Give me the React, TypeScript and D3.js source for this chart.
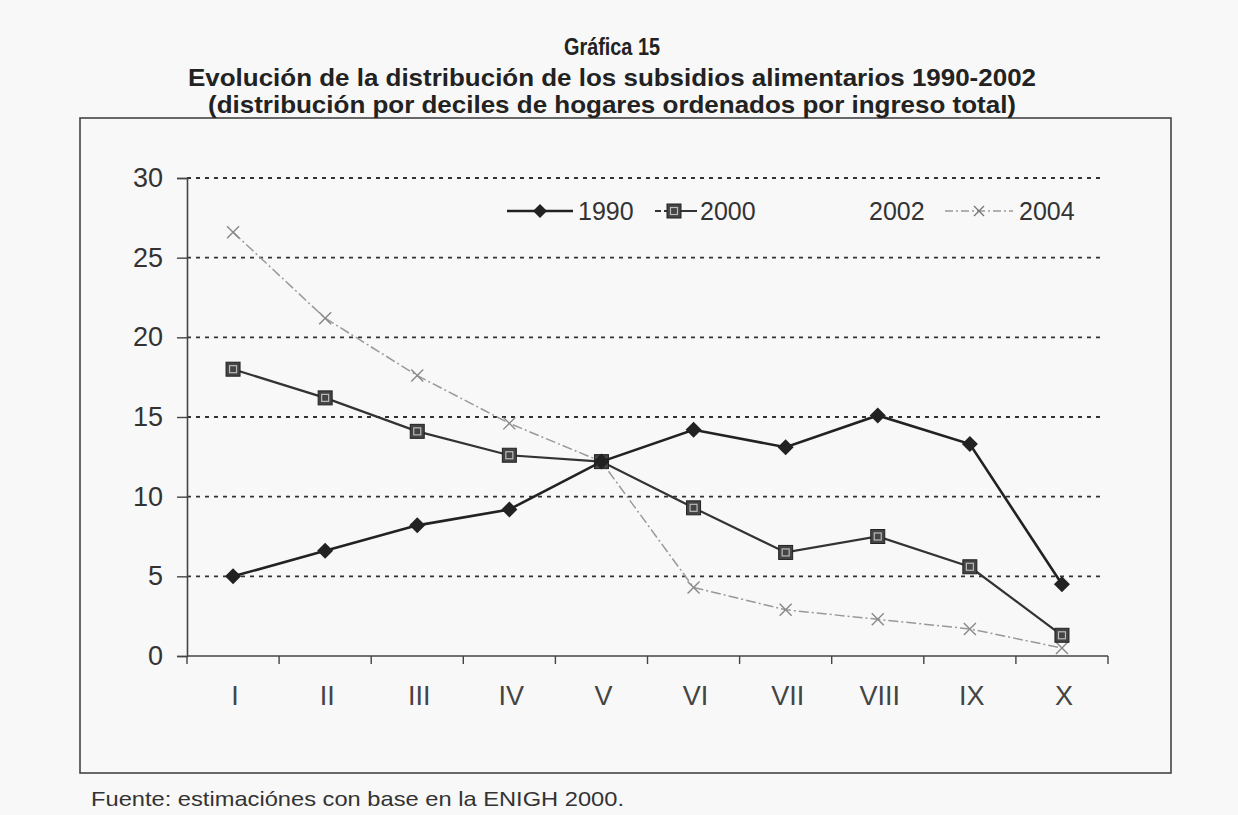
import React, { useEffect, useRef } from "react";
import * as d3 from "d3";

const categories = ["I", "II", "III", "IV", "V", "VI", "VII", "VIII", "IX", "X"];
const values1990 = [5.0, 6.6, 8.2, 9.2, 12.2, 14.2, 13.1, 15.1, 13.3, 4.5];
const values2000 = [18.0, 16.2, 14.1, 12.6, 12.2, 9.3, 6.5, 7.5, 5.6, 1.3];
const values2004 = [26.6, 21.2, 17.6, 14.6, 12.2, 4.3, 2.9, 2.3, 1.7, 0.5];
const yTicks = [0, 5, 10, 15, 20, 25, 30];
const titleLines = [
  "Gráfica 15",
  "Evolución de la distribución de los subsidios alimentarios 1990-2002",
  "(distribución por deciles de hogares ordenados por ingreso total)",
];
const legendLabels = ["1990", "2000", "2002", "2004"];
const sourceNote = "Fuente: estimaciónes con base en la ENIGH 2000.";

const W = 1238;
const H = 815;
const FONT = "'Liberation Sans', Arial, sans-serif";
const NARROW = "'Liberation Sans Narrow', 'Liberation Sans', Arial, sans-serif";

export default function App() {
  const ref = useRef<SVGSVGElement>(null);

  useEffect(() => {
    const svg = d3.select(ref.current);
    svg.selectAll("*").remove();

    svg.append("rect").attr("width", W).attr("height", H).attr("fill", "#f8f8f8");

    // frame
    svg.append("rect")
      .attr("x", 80).attr("y", 118).attr("width", 1091).attr("height", 655)
      .attr("fill", "none").attr("stroke", "#444").attr("stroke-width", 1.6);

    // title
    const tY = [47, 78, 105];
    const tSize = [24, 24, 24];
    const tLen = [96, 848, 808];
    titleLines.forEach((t, i) => {
      svg.append("text")
        .attr("x", 612).attr("y", tY[i] + 8)
        .attr("text-anchor", "middle")
        .attr("font-family", NARROW)
        .attr("font-weight", "bold")
        .attr("font-size", tSize[i])
        .attr("fill", "#222")
        .attr("textLength", tLen[i])
        .attr("lengthAdjust", "spacingAndGlyphs")
        .text(t);
    });

    const x = d3.scaleBand<string>().domain(categories).range([187, 1108]);
    const y = d3.scaleLinear().domain([0, 30]).range([656, 178]);
    const cx = (c: string) => (x(c) as number) + x.bandwidth() / 2;

    // gridlines
    svg.append("g").selectAll("line")
      .data(yTicks.filter((t) => t > 0))
      .join("line")
      .attr("x1", 187).attr("x2", 1100)
      .attr("y1", (d) => y(d)).attr("y2", (d) => y(d))
      .attr("stroke", "#333").attr("stroke-width", 1.8)
      .attr("stroke-dasharray", "4,5");

    // y axis
    const yAxis = svg.append("g").attr("transform", "translate(187,0)")
      .call(d3.axisLeft(y).tickValues(yTicks).tickSize(10).tickPadding(14).tickFormat(d3.format("d")));
    yAxis.select(".domain").attr("stroke", "#444").attr("stroke-width", 1.6);
    yAxis.selectAll(".tick line").attr("stroke", "#444").attr("stroke-width", 1.4);
    yAxis.selectAll(".tick text").attr("font-family", FONT).attr("font-size", 27).attr("fill", "#333");

    // x axis
    const xAxis = svg.append("g").attr("transform", "translate(0,656)");
    xAxis.append("line").attr("x1", 187).attr("x2", 1108).attr("y1", 0).attr("y2", 0)
      .attr("stroke", "#444").attr("stroke-width", 1.6);
    const bounds = categories.map((c) => (x(c) as number) + x.bandwidth()).concat([x(categories[0]) as number]);
    xAxis.selectAll("line.tk").data(bounds).join("line").attr("class", "tk")
      .attr("x1", (d) => d).attr("x2", (d) => d).attr("y1", 0).attr("y2", 8)
      .attr("stroke", "#444").attr("stroke-width", 1.4);
    xAxis.selectAll("text").data(categories).join("text")
      .attr("x", (d) => cx(d) + 2).attr("y", 49)
      .attr("text-anchor", "middle")
      .attr("font-family", FONT).attr("font-size", 27).attr("fill", "#444")
      .text((d) => d);

    const line = d3.line<[number, number]>().x((d) => d[0]).y((d) => d[1]);
    const pts = (vals: number[]) => categories.map((c, i) => [cx(c), y(vals[i])] as [number, number]);

    // 2004 series
    const p2004 = pts(values2004);
    svg.append("path").attr("d", line(p2004)).attr("fill", "none")
      .attr("stroke", "#999").attr("stroke-width", 1.5).attr("stroke-dasharray", "10,3,2,3");
    const xMark = (g: any, px: number, py: number, col: string, s = 6) => {
      g.append("path")
        .attr("d", `M${px - s},${py - s}L${px + s},${py + s}M${px - s},${py + s}L${px + s},${py - s}`)
        .attr("stroke", col).attr("stroke-width", 1.4).attr("fill", "none");
    };
    const g2004 = svg.append("g");
    p2004.forEach(([px, py]) => xMark(g2004, px, py, "#888"));

    // 2000 series
    const p2000 = pts(values2000);
    svg.append("path").attr("d", line(p2000)).attr("fill", "none")
      .attr("stroke", "#333").attr("stroke-width", 2.2);
    const sq = (g: any, px: number, py: number) => {
      g.append("rect").attr("x", px - 7).attr("y", py - 7).attr("width", 14).attr("height", 14)
        .attr("fill", "#444").attr("stroke", "#222").attr("stroke-width", 1);
      g.append("rect").attr("x", px - 3.5).attr("y", py - 3.5).attr("width", 7).attr("height", 7)
        .attr("fill", "none").attr("stroke", "#bbb").attr("stroke-width", 1.2);
    };
    const g2000 = svg.append("g");
    p2000.forEach(([px, py]) => sq(g2000, px, py));

    // 1990 series
    const p1990 = pts(values1990);
    svg.append("path").attr("d", line(p1990)).attr("fill", "none")
      .attr("stroke", "#222").attr("stroke-width", 2.6);
    const dia = (g: any, px: number, py: number, s = 8) => {
      g.append("path").attr("d", `M${px},${py - s}L${px + s},${py}L${px},${py + s}L${px - s},${py}Z`)
        .attr("fill", "#222");
    };
    const g1990 = svg.append("g");
    p1990.forEach(([px, py]) => dia(g1990, px, py));

    // legend
    const ly = 211;
    const lg = svg.append("g");
    const legText = (tx: number, t: string) =>
      lg.append("text").attr("x", tx).attr("y", ly + 9).attr("font-family", FONT)
        .attr("font-size", 25).attr("fill", "#333").text(t);
    lg.append("line").attr("x1", 507).attr("x2", 573).attr("y1", ly).attr("y2", ly)
      .attr("stroke", "#222").attr("stroke-width", 2.4);
    dia(lg, 540, ly, 7);
    legText(578, legendLabels[0]);
    lg.append("line").attr("x1", 655).attr("x2", 697).attr("y1", ly).attr("y2", ly)
      .attr("stroke", "#333").attr("stroke-width", 2).attr("stroke-dasharray", "6,3,30,0");
    sq(lg, 674, ly);
    legText(700, legendLabels[1]);
    legText(869, legendLabels[2]);
    lg.append("line").attr("x1", 945).attr("x2", 1013).attr("y1", ly).attr("y2", ly)
      .attr("stroke", "#999").attr("stroke-width", 1.4).attr("stroke-dasharray", "8,3,2,3");
    xMark(lg, 979, ly, "#777", 5);
    legText(1019, legendLabels[3]);

    // source
    svg.append("text").attr("x", 91).attr("y", 806)
      .attr("font-family", FONT).attr("font-size", 21).attr("fill", "#333")
      .attr("textLength", 533).attr("lengthAdjust", "spacingAndGlyphs")
      .text(sourceNote);
  }, []);

  return (
    <svg ref={ref} width={W} height={H}
      style={{ position: "absolute", left: 0, top: 0, display: "block" }} />
  );
}
